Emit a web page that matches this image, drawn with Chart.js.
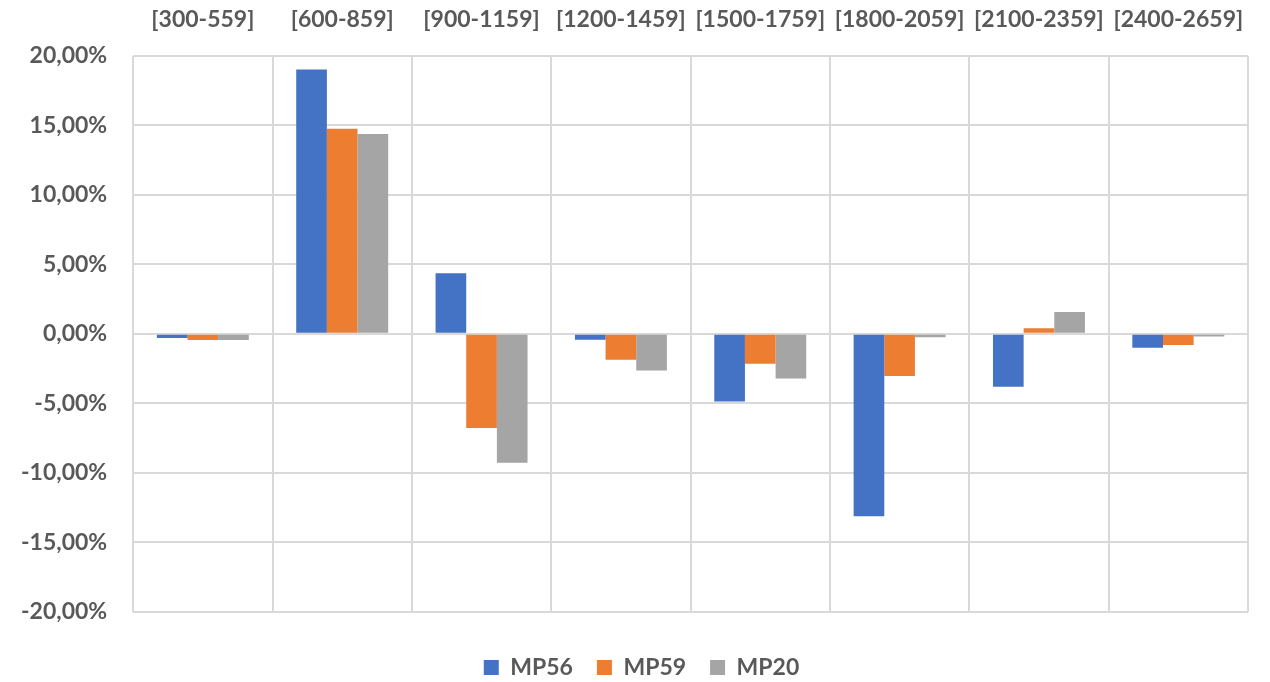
<!DOCTYPE html>
<html>
<head>
<meta charset="utf-8">
<script src="https://cdn.jsdelivr.net/npm/chart.js@4/dist/chart.umd.min.js"></script>
<style>
  html, body { margin: 0; padding: 0; background: #fff; }
  #wrap { width: 1270px; height: 682px; }
</style>
</head>
<body>
<div id="wrap"><canvas id="barChart" width="1270" height="682"></canvas></div>
<script>
// data
const categories = ['[300-559]', '[600-859]', '[900-1159]', '[1200-1459]', '[1500-1759]', '[1800-2059]', '[2100-2359]', '[2400-2659]'];
const mp56 = [-0.30, 19.00, 4.35, -0.43, -4.86, -13.12, -3.80, -1.00];
const mp59 = [-0.45, 14.74, -6.77, -1.87, -2.16, -3.03, 0.40, -0.80];
const mp20 = [-0.45, 14.36, -9.27, -2.64, -3.22, -0.24, 1.56, -0.20];
const yTicks = [-20, -15, -10, -5, 0, 5, 10, 15, 20];

const textColor = '#595959';
const gridColor = '#d9d9d9';
const fontFamily = 'Lato, "Open Sans", sans-serif';

function pct(v) {
    return v.toFixed(2).replace('.', ',') + '%';
}

const data = {
    labels: categories,
    datasets: [
        { label: 'MP56', data: mp56, backgroundColor: '#4472C4' },
        { label: 'MP59', data: mp59, backgroundColor: '#ED7D31' },
        { label: 'MP20', data: mp20, backgroundColor: '#A5A5A5' }
    ]
};

const config = {
    type: 'bar',
    data,
    options: {
        responsive: false,
        animation: false,
        layout: {
            padding: { left: -5, right: -18, top: -16, bottom: -7 }
        },
        datasets: {
            bar: {
                xAxisID: 'x',
                yAxisID: 'y',
                categoryPercentage: 0.66,
                barPercentage: 1.0
            }
        },
        plugins: {
            legend: {
                position: 'bottom',
                labels: {
                    boxWidth: 15,
                    boxHeight: 15,
                    padding: 24,
                    color: textColor,
                    font: { family: fontFamily, size: 23, weight: 'bold' }
                }
            },
            tooltip: { enabled: false }
        },
        scales: {
            x: {
                position: 'top',
                grid: {
                    offset: true,
                    color: gridColor,
                    lineWidth: 2,
                    drawTicks: false
                },
                border: { display: false },
                ticks: {
                    padding: 22,
                    maxRotation: 0,
                    autoSkip: false,
                    color: textColor,
                    font: { family: fontFamily, size: 23, weight: 'bold' }
                }
            },
            y: {
                min: -20,
                max: 20,
                afterBuildTicks: (axis) => {
                    axis.ticks = yTicks.map(v => ({ value: v }));
                },
                grid: {
                    color: gridColor,
                    lineWidth: 2,
                    drawTicks: false
                },
                border: { display: false },
                ticks: {
                    padding: 26,
                    color: textColor,
                    font: { family: fontFamily, size: 23, weight: 'bold' },
                    callback: (v) => pct(v)
                }
            },
            // empty spacers: below the plot and right of it
            gap: {
                type: 'category',
                position: 'bottom',
                grid: { display: false },
                border: { display: false },
                ticks: { display: false },
                afterFit: (scale) => { scale.height = 20; }
            },
            rgap: {
                type: 'linear',
                position: 'right',
                min: 0,
                max: 1,
                grid: { display: false },
                border: { display: false },
                ticks: { display: false },
                afterFit: (scale) => { scale.width = 40; }
            }
        }
    }
};

const barChart = new Chart(document.getElementById('barChart'), config);
</script>
</body>
</html>
